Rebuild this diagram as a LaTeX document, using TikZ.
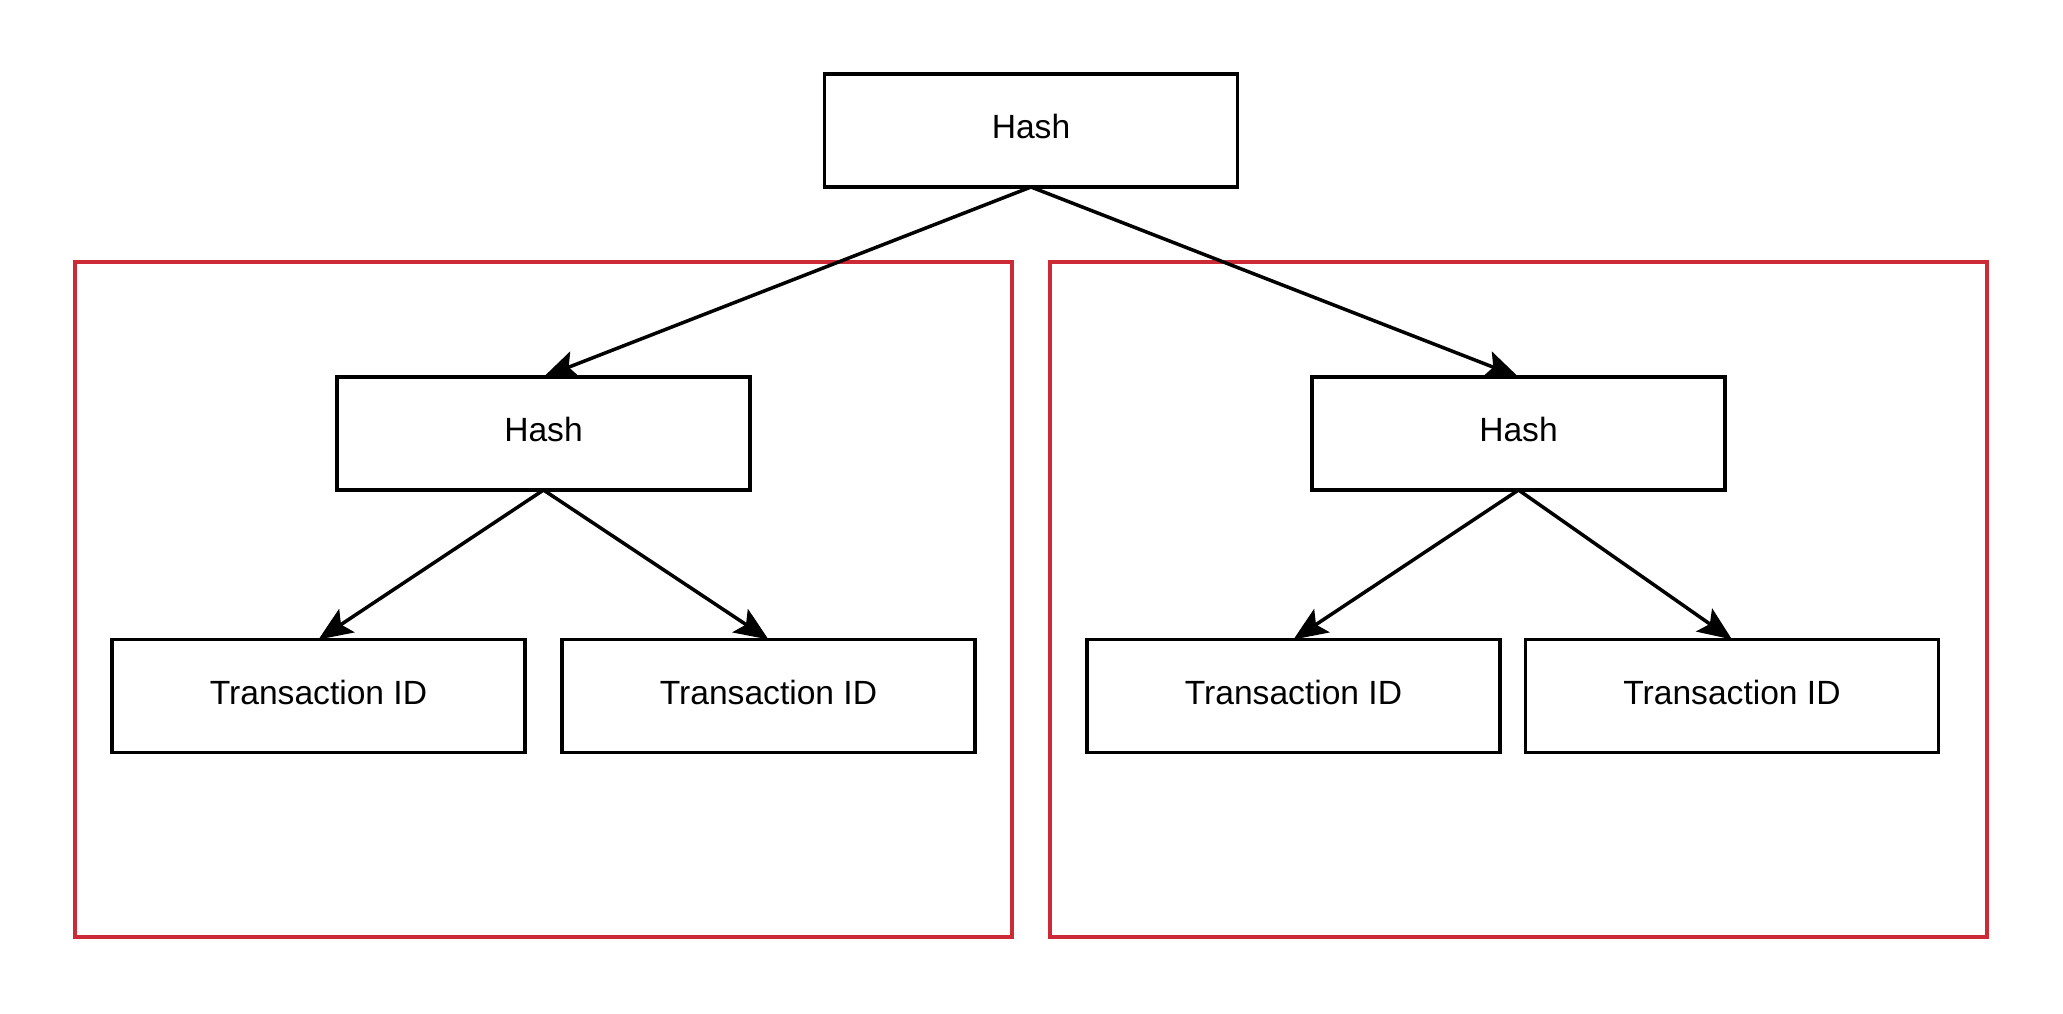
\documentclass[tikz,border=0pt]{standalone}
\usepackage{fontspec}
\setmainfont{Liberation Sans}
\usetikzlibrary{arrows.meta}
\definecolor{grpred}{RGB}{205,42,56}
\begin{document}
\begin{tikzpicture}[x=0.5pt,y=-0.5pt,
  box/.style={draw=black, line width=1.75pt, minimum width=206.5pt, minimum height=56.5pt, inner sep=0pt, outer sep=0pt, text depth=4pt, font=\fontsize{16.8}{20}\selectfont},
  grp/.style={draw=grpred, line width=2pt},
  link/.style={draw=black, line width=1.75pt, -{Stealth[length=17pt,width=14pt,inset=3.5pt]}}]
\useasboundingbox (0,0) rectangle (2063,1013);
\draw[grp] (75,262) rectangle (1012,937);
\draw[grp] (1050,262) rectangle (1987,937);
\node[box] (top) at (1031,130.5) {Hash};
\node[box] (hl) at (543.5,433.5) {Hash};
\node[box] (hr) at (1518.5,433.5) {Hash};
\node[box] (t1) at (318.5,696) {Transaction ID};
\node[box] (t2) at (768.5,696) {Transaction ID};
\node[box] (t3) at (1293.5,696) {Transaction ID};
\node[box] (t4) at (1732,696) {Transaction ID};
\draw[link] (top.south) -- (hl.north);
\draw[link] (top.south) -- (hr.north);
\draw[link] (hl.south) -- (t1.north);
\draw[link] (hl.south) -- (t2.north);
\draw[link] (hr.south) -- (t3.north);
\draw[link] (hr.south) -- (t4.north);
\end{tikzpicture}
\end{document}
